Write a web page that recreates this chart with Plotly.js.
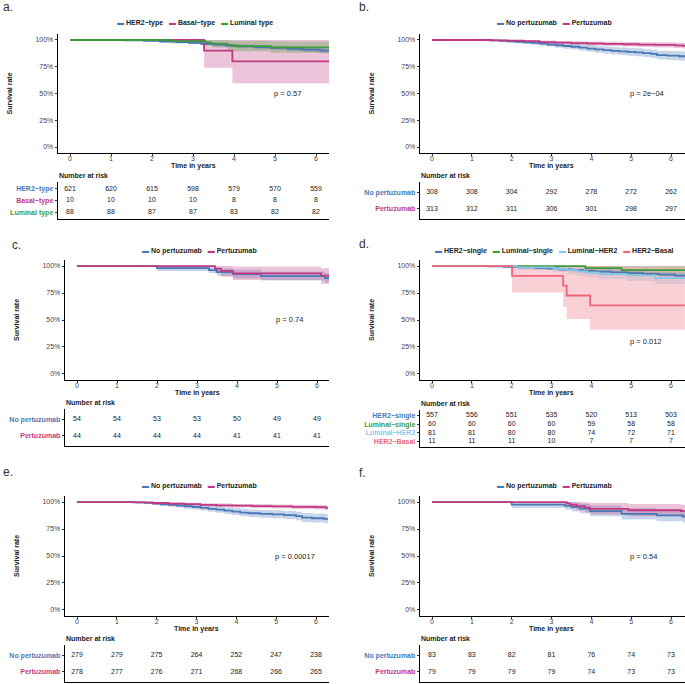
<!DOCTYPE html>
<html>
<head>
<meta charset="utf-8">
<script src="https://cdn.plot.ly/plotly-3.0.1.min.js"></script>
<style>
  html, body { margin: 0; padding: 0; background: #fff; }
  #chart { width: 685px; height: 684px; }
</style>
</head>
<body>
<div id="chart"></div>
<script>
const timeTicks = [0, 1, 2, 3, 4, 5, 6];

// ---- panel a: subtype ----
const aHer2T  = [0, 1.3, 1.8, 2.2, 2.6, 2.9, 3.2, 3.5, 3.8, 4.1, 4.5, 4.9, 5.3, 5.7, 6.1, 6.32];
const aHer2S  = [1, .997, .992, .986, .980, .973, .965, .957, .948, .940, .933, .926, .918, .910, .900, .900];
const aHer2Lo = [1, .993, .985, .977, .969, .961, .951, .942, .931, .922, .914, .906, .897, .888, .877, .877];
const aHer2Hi = [1, 1, .999, .995, .991, .985, .979, .972, .965, .958, .952, .946, .939, .932, .923, .923];
const aBasalT  = [0, 3.27, 3.96, 6.32];
const aBasalS  = [1, .9, .8, .8];
const aBasalLo = [1, .74, .595, .595];
const aBasalHi = [1, 1, 1, 1];
const aLumT  = [0, 2.45, 3.3, 3.45, 3.85, 3.95, 4.9, 6.32];
const aLumS  = [1, .989, .977, .966, .954, .943, .931, .931];
const aLumLo = [1, .967, .946, .929, .910, .895, .880, .880];
const aLumHi = [1, 1, 1, 1, .998, .993, .986, .986];
const aHer2Risk  = [621, 620, 615, 598, 579, 570, 559];
const aBasalRisk = [10, 10, 10, 10, 8, 8, 8];
const aLumRisk   = [88, 88, 87, 87, 83, 82, 82];

// ---- panel b ----
const bNoT  = [0, 1.45, 1.7, 1.9, 2.1, 2.3, 2.5, 2.7, 2.9, 3.1, 3.3, 3.5, 3.7, 3.9, 4.1, 4.3, 4.5, 4.7, 4.9, 5.1, 5.3, 5.5, 5.65, 5.9, 6.2, 6.35];
const bNoS  = [1, .997, .993, .988, .983, .978, .973, .966, .958, .951, .944, .937, .929, .920, .912, .905, .899, .894, .889, .884, .878, .870, .858, .853, .848, .848];
const bNoLo = [1, .991, .984, .976, .969, .962, .955, .946, .936, .927, .918, .910, .900, .890, .880, .872, .865, .859, .853, .847, .840, .831, .818, .812, .806, .806];
const bNoHi = [1, 1, 1, .999, .997, .994, .991, .986, .980, .975, .970, .965, .959, .951, .945, .939, .934, .930, .926, .922, .917, .911, .900, .896, .892, .892];
const bPerT  = [0, 1.5, 1.9, 2.3, 2.7, 3.1, 3.5, 3.9, 4.3, 4.8, 5.2, 5.6, 6.1, 6.3, 6.35];
const bPerS  = [1, .997, .994, .990, .981, .975, .971, .967, .964, .960, .957, .954, .950, .945, .945];
const bPerLo = [1, .991, .986, .980, .968, .960, .954, .948, .944, .939, .935, .931, .926, .919, .919];
const bPerHi = [1, 1, 1, .999, .995, .991, .988, .986, .984, .982, .980, .978, .975, .972, .972];
const bNoRisk  = [308, 308, 304, 292, 278, 272, 262];
const bPerRisk = [313, 312, 311, 306, 301, 298, 297];

// ---- panel c ----
const cNoT  = [0, 2.0, 3.3, 3.5, 3.9, 4.6, 6.2, 6.3];
const cNoS  = [1, .981, .963, .944, .925, .907, .889, .889];
const cNoLo = [1, .955, .935, .910, .885, .865, .845, .845];
const cNoHi = [1, 1, .99, .98, .965, .95, .935, .935];
const cPerT  = [0, 3.45, 3.6, 3.9, 6.1, 6.3];
const cPerS  = [1, .977, .955, .932, .912, .912];
const cPerLo = [1, .935, .90, .87, .835, .835];
const cPerHi = [1, 1, 1, .995, .98, .98];
const cNoRisk  = [54, 54, 53, 53, 50, 49, 49];
const cPerRisk = [44, 44, 44, 44, 41, 41, 41];

// ---- panel d ----
const dHer2T  = [0, 1.4, 1.8, 2.2, 2.6, 2.9, 3.2, 3.5, 3.8, 4.1, 4.5, 4.9, 5.3, 5.7, 6.1, 6.35];
const dHer2S  = [1, .997, .993, .988, .982, .976, .969, .962, .955, .948, .941, .934, .927, .920, .912, .912];
const dHer2Lo = [1, .993, .986, .979, .971, .964, .956, .947, .939, .931, .923, .915, .907, .899, .890, .890];
const dHer2Hi = [1, 1, 1, .997, .993, .988, .982, .977, .971, .965, .959, .953, .947, .941, .934, .934];
const dLumT  = [0, 3.85, 4.76, 6.35];
const dLumS  = [1, .981, .963, .963];
const dLumLo = [1, .950, .925, .925];
const dLumHi = [1, 1, 1, 1];
const dLhT  = [0, 2.15, 3.05, 3.4, 3.65, 3.9, 4.2, 4.9, 5.6, 6.35];
const dLhS  = [1, .988, .975, .963, .950, .938, .925, .913, .888, .888];
const dLhLo = [1, .964, .943, .925, .908, .893, .877, .862, .833, .833];
const dLhHi = [1, 1, 1, 1, .995, .986, .976, .966, .946, .946];
const dBasT  = [0, 2.01, 3.29, 3.38, 3.97, 6.35];
const dBasS  = [1, .909, .818, .727, .636, .636];
const dBasLo = [1, .755, .62, .51, .41, .41];
const dBasHi = [1, 1, 1, 1, 1, 1];
const dHer2Risk = [557, 556, 551, 535, 520, 513, 503];
const dLumRisk  = [60, 60, 60, 60, 59, 58, 58];
const dLhRisk   = [81, 81, 80, 80, 74, 72, 71];
const dBasRisk  = [11, 11, 11, 10, 7, 7, 7];

// ---- panel e ----
const eNoT  = [0, 1.4, 1.7, 1.9, 2.1, 2.3, 2.5, 2.7, 2.9, 3.1, 3.3, 3.5, 3.7, 3.9, 4.1, 4.3, 4.6, 4.9, 5.2, 5.5, 5.65, 5.9, 6.2, 6.3];
const eNoS  = [1, .997, .992, .985, .979, .974, .968, .961, .954, .946, .937, .929, .920, .911, .902, .896, .890, .885, .879, .870, .855, .850, .844, .844];
const eNoLo = [1, .991, .982, .972, .964, .957, .949, .940, .931, .921, .910, .900, .890, .879, .869, .862, .855, .849, .842, .832, .816, .810, .803, .803];
const eNoHi = [1, 1, 1, .998, .995, .992, .988, .983, .978, .972, .965, .959, .952, .944, .937, .932, .927, .923, .918, .911, .898, .894, .889, .889];
const ePerT  = [0, 1.5, 1.9, 2.3, 2.7, 3.1, 3.5, 3.9, 4.4, 4.9, 5.4, 6.0, 6.25, 6.3];
const ePerS  = [1, .996, .991, .986, .980, .974, .970, .966, .963, .959, .956, .952, .946, .946];
const ePerLo = [1, .989, .982, .975, .967, .959, .954, .949, .945, .940, .936, .931, .924, .924];
const ePerHi = [1, 1, 1, .997, .993, .989, .986, .983, .981, .978, .976, .973, .969, .969];
const eNoRisk  = [279, 279, 275, 264, 252, 247, 238];
const ePerRisk = [278, 277, 276, 271, 268, 266, 265];

// ---- panel f ----
const fNoT  = [0, 2.0, 3.34, 3.51, 3.72, 3.97, 4.76, 5.64, 6.3, 6.35];
const fNoS  = [1, .976, .964, .952, .940, .916, .890, .876, .865, .865];
const fNoLo = [1, .945, .928, .912, .897, .868, .838, .822, .808, .808];
const fNoHi = [1, 1, 1, .993, .985, .967, .945, .934, .925, .925];
const fPerT  = [0, 3.38, 3.47, 3.63, 3.84, 3.97, 4.93, 6.25, 6.35];
const fPerS  = [1, .987, .975, .962, .949, .937, .924, .915, .915];
const fPerLo = [1, .962, .942, .922, .903, .886, .869, .856, .856];
const fPerHi = [1, 1, 1, 1, .996, .99, .982, .975, .975];
const fNoRisk  = [83, 83, 82, 81, 76, 74, 73];
const fPerRisk = [79, 79, 79, 79, 74, 73, 73];

const colBlue = '#4a78b7', colPink = '#bf3a82', colGreen = '#3f9a3c', colSky = '#86c9e6', colRed = '#f0657a';

function rgba(hex, a) {
  const n = parseInt(hex.slice(1), 16);
  return `rgba(${(n >> 16) & 255},${(n >> 8) & 255},${n & 255},${a})`;
}

const noPer = 'No pertuzumab', per = 'Pertuzumab';
const panels = [
  { tag: 'a.', tagX: 1, tagY: 7, L: 58, R: 329, x0: 70, x6: 316, pTop: 34, pBot: 153, tTop: 182, tBot: 219, legX: 195, legY: 23, p: 'p = 0.57', pY: 0.5,
    curves: [
      { name: 'HER2−type', col: colBlue, t: aHer2T, s: aHer2S, lo: aHer2Lo, hi: aHer2Hi, risk: aHer2Risk },
      { name: 'Basal−type', col: colPink, t: aBasalT, s: aBasalS, lo: aBasalLo, hi: aBasalHi, risk: aBasalRisk },
      { name: 'Luminal type', col: colGreen, t: aLumT, s: aLumS, lo: aLumLo, hi: aLumHi, risk: aLumRisk }] },
  { tag: 'b.', tagX: 357, tagY: 7, L: 420, R: 685, x0: 432, x6: 671, pTop: 34, pBot: 153, tTop: 182, tBot: 219, legX: 554, legY: 23, p: 'p = 2e−04', pY: 0.5,
    curves: [
      { name: noPer, col: colBlue, t: bNoT, s: bNoS, lo: bNoLo, hi: bNoHi, risk: bNoRisk },
      { name: per, col: colPink, t: bPerT, s: bPerS, lo: bPerLo, hi: bPerHi, risk: bPerRisk }] },
  { tag: 'c.', tagX: 10, tagY: 245, L: 65, R: 329, x0: 77, x6: 317, pTop: 260, pBot: 380, tTop: 409, tBot: 446, legX: 199, legY: 251, p: 'p = 0.74', pY: 0.5,
    curves: [
      { name: noPer, col: colBlue, t: cNoT, s: cNoS, lo: cNoLo, hi: cNoHi, risk: cNoRisk },
      { name: per, col: colPink, t: cPerT, s: cPerS, lo: cPerLo, hi: cPerHi, risk: cPerRisk }] },
  { tag: 'd.', tagX: 357, tagY: 244, L: 420, R: 685, x0: 432, x6: 671, pTop: 260, pBot: 380, tTop: 410, tBot: 447, legX: 554, legY: 251, p: 'p = 0.012', pY: 0.3,
    curves: [
      { name: 'HER2−single', col: colBlue, t: dHer2T, s: dHer2S, lo: dHer2Lo, hi: dHer2Hi, risk: dHer2Risk },
      { name: 'Luminal−single', col: colGreen, t: dLumT, s: dLumS, lo: dLumLo, hi: dLumHi, risk: dLumRisk },
      { name: 'Luminal−HER2', col: colSky, t: dLhT, s: dLhS, lo: dLhLo, hi: dLhHi, risk: dLhRisk },
      { name: 'HER2−Basal', col: colRed, t: dBasT, s: dBasS, lo: dBasLo, hi: dBasHi, risk: dBasRisk }] },
  { tag: 'e.', tagX: 1, tagY: 472, L: 65, R: 329, x0: 77, x6: 316, pTop: 496, pBot: 616, tTop: 645, tBot: 682, legX: 199, legY: 486, p: 'p = 0.00017', pY: 0.5,
    curves: [
      { name: noPer, col: colBlue, t: eNoT, s: eNoS, lo: eNoLo, hi: eNoHi, risk: eNoRisk },
      { name: per, col: colPink, t: ePerT, s: ePerS, lo: ePerLo, hi: ePerHi, risk: ePerRisk }] },
  { tag: 'f.', tagX: 357, tagY: 473, L: 420, R: 685, x0: 432, x6: 671, pTop: 496, pBot: 616, tTop: 645, tBot: 682, legX: 554, legY: 486, p: 'p = 0.54', pY: 0.5,
    curves: [
      { name: noPer, col: colBlue, t: fNoT, s: fNoS, lo: fNoLo, hi: fNoHi, risk: fNoRisk },
      { name: per, col: colPink, t: fPerT, s: fPerS, lo: fPerLo, hi: fPerHi, risk: fPerRisk }] }
];

const W = 685, H = 684;
const px = x => x / W;
const py = y => 1 - y / H;
const FONT = 'Liberation Sans, Arial, sans-serif';

const traces = [];
const layout = {
  width: W, height: H, margin: { l: 0, r: 0, t: 0, b: 0 },
  paper_bgcolor: '#fff', plot_bgcolor: '#fff', showlegend: false,
  font: { family: FONT, size: 7, color: '#222' },
  annotations: []
};

panels.forEach((pn, i) => {
  const kp = 2 * i + 1, kt = 2 * i + 2;
  const ax = k => (k === 1 ? '' : String(k));
  const perYr = (pn.x6 - pn.x0) / 6;
  const xr = [(pn.L - pn.x0) / perYr, (pn.R - pn.x0) / perYr];
  const xdom = [px(pn.L), Math.min(1, px(pn.R))];
  const nRows = pn.curves.length;

  // bands
  pn.curves.forEach(c => {
    traces.push({ x: c.t, y: c.lo, xaxis: 'x' + ax(kp), yaxis: 'y' + ax(kp), mode: 'lines',
      line: { width: 0, shape: 'hv' }, hoverinfo: 'skip' });
    traces.push({ x: c.t, y: c.hi, xaxis: 'x' + ax(kp), yaxis: 'y' + ax(kp), mode: 'lines',
      line: { width: 0, shape: 'hv' }, fill: 'tonexty', fillcolor: rgba(c.col, 0.3), hoverinfo: 'skip' });
  });
  // curves
  pn.curves.forEach(c => {
    traces.push({ x: c.t, y: c.s, xaxis: 'x' + ax(kp), yaxis: 'y' + ax(kp), mode: 'lines', name: c.name,
      line: { color: c.col, width: 1.8, shape: 'hv' } });
  });
  // risk table
  pn.curves.forEach((c, r) => {
    traces.push({ x: timeTicks, y: timeTicks.map(() => nRows - r), text: c.risk.map(String),
      xaxis: 'x' + ax(kt), yaxis: 'y' + ax(kt), mode: 'text', textposition: 'middle center',
      textfont: { size: 7, color: '#222', family: FONT }, cliponaxis: false, hoverinfo: 'skip' });
  });

  const lineStyle = { showline: true, linecolor: '#000', linewidth: 1.3, showgrid: false, zeroline: false, fixedrange: true };
  layout['xaxis' + ax(kp)] = Object.assign({}, lineStyle, {
    domain: xdom, anchor: 'y' + ax(kp), range: xr, tickvals: timeTicks,
    ticks: 'outside', ticklen: 2, tickcolor: '#333', ticklabelstandoff: -4, tickfont: { size: 7, color: '#444' } });
  layout['yaxis' + ax(kp)] = Object.assign({}, lineStyle, {
    domain: [py(pn.pBot), py(pn.pTop)], anchor: 'x' + ax(kp), range: [-0.056, 1.056],
    tickvals: [0, 0.25, 0.5, 0.75, 1], tickformat: '.0%',
    ticks: 'outside', ticklen: 2, tickcolor: '#333', tickfont: { size: 7, color: '#444' } });
  layout['xaxis' + ax(kt)] = Object.assign({}, lineStyle, {
    domain: xdom, anchor: 'y' + ax(kt), range: xr, showticklabels: false, ticks: '' });
  layout['yaxis' + ax(kt)] = Object.assign({}, lineStyle, {
    domain: [py(pn.tBot), py(pn.tTop)], anchor: 'x' + ax(kt), range: [0.4, nRows + 0.6],
    tickvals: pn.curves.map((c, r) => nRows - r),
    ticktext: pn.curves.map(c => `<span style="color:${c.col}"><b>${c.name}</b></span>`),
    ticks: 'outside', ticklen: 2, tickcolor: '#333', tickfont: { size: 7 } });

  const ann = layout.annotations;
  ann.push({ text: pn.tag, xref: 'paper', yref: 'paper', x: px(pn.tagX), y: py(pn.tagY),
    xanchor: 'left', yanchor: 'middle', showarrow: false, font: { size: 12, color: '#333' } });
  ann.push({ text: pn.curves.map(c => `<span style="color:${c.col}">▬</span> <b>${c.name}</b>`).join('   '),
    xref: 'paper', yref: 'paper', x: px(pn.legX), y: py(pn.legY), xanchor: 'center', yanchor: 'middle',
    showarrow: false, font: { size: 7, color: '#222' } });
  ann.push({ text: '<b>Survival rate</b>', textangle: -90, xref: 'paper', yref: 'paper',
    x: px(pn.L - 49), y: py((pn.pTop + pn.pBot) / 2), xanchor: 'center', yanchor: 'middle',
    showarrow: false, font: { size: 7, color: '#222' } });
  ann.push({ text: '<b>Time in years</b>', xref: 'x' + ax(kp), yref: 'paper', x: 3, y: py(pn.pBot + 12.5),
    xanchor: 'center', yanchor: 'middle', showarrow: false, font: { size: 7, color: '#222' } });
  ann.push({ text: '<b>Number at risk</b>', xref: 'paper', yref: 'paper', x: px(pn.L - 1), y: py(pn.tTop - 6.5),
    xanchor: 'left', yanchor: 'middle', showarrow: false, font: { size: 7, color: '#222' } });
  ann.push({ text: pn.p, xref: 'x' + ax(kp), yref: 'y' + ax(kp), x: 4.93, y: pn.pY,
    xanchor: 'left', yanchor: 'middle', showarrow: false, font: { size: 7.5, color: '#222' } });
});

Plotly.newPlot('chart', traces, layout, { staticPlot: true });
</script>
</body>
</html>
